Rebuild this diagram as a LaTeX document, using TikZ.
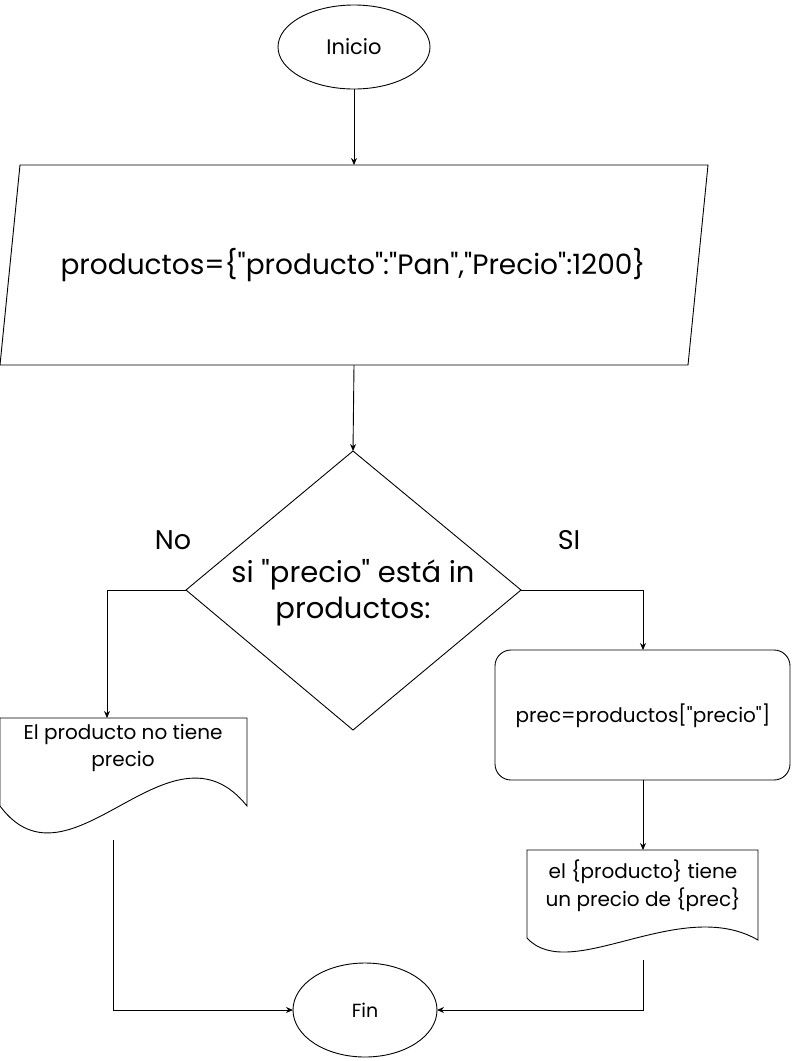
\documentclass[tikz,border=0pt]{standalone}
\usepackage{fontspec}
\setmainfont{Poppins}[Ligatures=TeXOff]
\usetikzlibrary{arrows.meta}
\tikzset{
  shp/.style={draw=black, line width=0.9pt, fill=white},
  conn/.style={draw=black, line width=0.9pt, -{Stealth[length=7pt,width=6pt]}},
  txt/.style={align=center, inner sep=0pt, text=black},
}
\begin{document}
\begin{tikzpicture}[x=1pt,y=-1pt]
\useasboundingbox[fill=white] (0,0) rectangle (792,1061);
% Inicio
\draw[shp] (354,47) ellipse [x radius=76, y radius=42];
\node[txt, font=\fontsize{21}{25}\selectfont] (ini) at (354,47) {Inicio};
\coordinate (iniB) at (354,89);
% parallelogram
\draw[shp] (20,165) -- (708,165) -- (688,365) -- (0,365) -- cycle;
\coordinate (parT) at (354,165);
\coordinate (parB) at (354,365);
\node[txt, font=\fontsize{28}{32}\selectfont] (par) at (353,265) {productos=\{"producto":"Pan","Precio":1200\}};
% diamond
\draw[shp] (353,451) -- (521,590) -- (353,730) -- (186,590) -- cycle;
\coordinate (diaT) at (353,451);
\coordinate (diaL) at (186,590);
\coordinate (diaR) at (521,590);
\node[txt, font=\fontsize{29}{36}\selectfont] (dia) at (353,593) {si "precio" está in\\productos:};
\node[txt, font=\fontsize{27}{30}\selectfont] (no) at (173,540) {No};
\node[txt, font=\fontsize{27}{30}\selectfont] (si) at (569,540) {SI};
% left document
\draw[shp] (0,806) -- (0,718) -- (247,718) -- (247,806)
  .. controls (170,710) and (70,900) .. (0,806);
\coordinate (docLT) at (107,718);
\coordinate (docLB) at (113,840);
\node[txt, font=\fontsize{20}{27}\selectfont] (docL) at (123,748) {El producto no tiene\\precio};
% rounded rect
\draw[shp, rounded corners=16pt] (495,650) rectangle (790,780);
\coordinate (recT) at (643,650);
\coordinate (recB) at (643,780);
\node[txt, font=\fontsize{20}{24}\selectfont] (rec) at (643,716) {prec=productos["precio"]};
% right document
\draw[shp] (527,938) -- (527,850) -- (758,850) -- (758,940)
  .. controls (680,895) and (570,985) .. (527,938);
\coordinate (docRT) at (643,850);
\coordinate (docRB) at (643,960);
\node[txt, font=\fontsize{20}{28}\selectfont] (docR) at (643,886) {el \{producto\} tiene\\un precio de \{prec\}};
% Fin
\draw[shp] (365,1010) ellipse [x radius=72, y radius=47];
\node[txt, font=\fontsize{19}{22}\selectfont] (fin) at (365,1010) {Fin};
\coordinate (finL) at (293,1010);
\coordinate (finR) at (437,1010);
% connectors
\draw[conn] (iniB) -- (parT);
\draw[conn] (parB) -- (diaT);
\draw[conn] (diaL) -| (docLT);
\draw[conn] (diaR) -| (recT);
\draw[conn] (recB) -- (docRT);
\draw[conn] (docLB) |- (finL);
\draw[conn] (docRB) |- (finR);
\end{tikzpicture}
\end{document}
